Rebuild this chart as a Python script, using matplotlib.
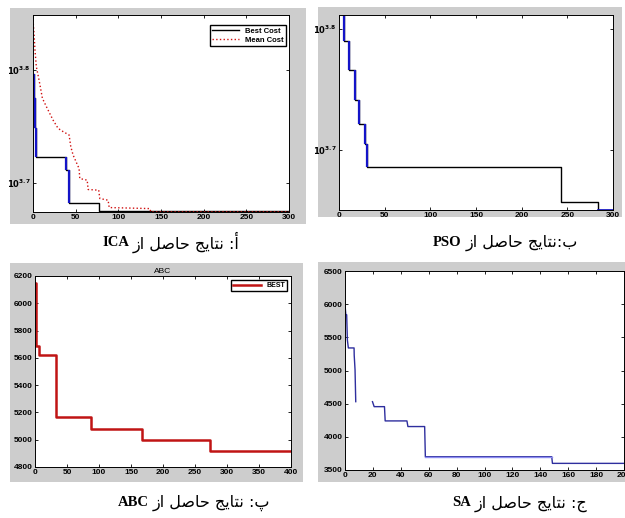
import numpy as np
import matplotlib.pyplot as plt
from matplotlib.patches import Rectangle
from matplotlib.text import Annotation
from matplotlib.ticker import FixedLocator, FixedFormatter, NullLocator

# ICA: best / mean cost (log scale)
ica_best_x = [0, 1, 2, 3, 39, 42, 77, 300]
ica_best_y = [6258, 5956, 5601, 5279, 5143, 4805, 4730, 4730]
ica_mean_x = [0, 1.2, 2.3, 3.9, 5.9, 7.8, 11, 15.7, 19.6, 23.5, 29.4, 35.3, 42.3, 44.3,
              47, 54, 54.8, 63.5, 64.6, 77, 78.3, 88, 89.3, 137, 138, 300]
ica_mean_y = [6989, 6800, 6574, 6353, 6246, 6141, 5956, 5855, 5775, 5697, 5601, 5564, 5526, 5395,
              5304, 5160, 5056, 5039, 4944, 4937, 4854, 4837, 4765, 4755, 4723, 4723]

# PSO (log scale)
pso_x = [4, 5, 11.3, 17.5, 22, 28.5, 30.5, 243, 283.5, 300]
pso_y = [6600, 6164, 5839, 5513, 5266, 5075, 4854, 4542, 4474, 4474]

# ABC
abc_x = [0, 1.5, 6, 33, 88, 167, 274, 400]
abc_y = [6150, 5690, 5620, 5165, 5075, 4995, 4915, 4915]

# SA (gap in the recorded curve)
sa_x = [0, 0.6, 1.2, 1.7, 2.4, 6.5, 6.6, 7.2, 7.7, np.nan, 19.7, 20.9, 28.3, 28.8,
        44.4, 45.1, 57.1, 57.6, 148.2, 148.7, 200]
sa_y = [5990, 5840, 5840, 5460, 5340, 5340, 5230, 5010, 4530, np.nan, 4530, 4455, 4455, 4240,
        4240, 4155, 4155, 3700, 3700, 3600, 3600]

captions = ['أ: نتایج حاصل از', 'ب:نتایج حاصل از', 'پ: نتایج حاصل از', 'ج: نتایج حاصل از']
cap_latin = ['ICA', 'PSO', 'ABC', 'SA']

# arabic presentation forms: isolated, final, initial, medial
FORMS = {
    'ا': ('\uFE8D', '\uFE8E'),
    'أ': ('\uFE83', '\uFE84'),
    'ز': ('\uFEAF', '\uFEB0'),
    'ب': ('\uFE8F', '\uFE90', '\uFE91', '\uFE92'),
    'پ': ('\uFB56', '\uFB57', '\uFB58', '\uFB59'),
    'ت': ('\uFE95', '\uFE96', '\uFE97', '\uFE98'),
    'ج': ('\uFE9D', '\uFE9E', '\uFE9F', '\uFEA0'),
    'ح': ('\uFEA1', '\uFEA2', '\uFEA3', '\uFEA4'),
    'ص': ('\uFEB9', '\uFEBA', '\uFEBB', '\uFEBC'),
    'ل': ('\uFEDD', '\uFEDE', '\uFEDF', '\uFEE0'),
    'ن': ('\uFEE5', '\uFEE6', '\uFEE7', '\uFEE8'),
    'ی': ('\uFEEF', '\uFEF0', '\uFEF3', '\uFEF4'),
}


def shape_word(w):
    out = []
    for i, c in enumerate(w):
        f = FORMS.get(c)
        if f is None:
            out.append(c)
            continue
        prev = FORMS.get(w[i - 1]) if i > 0 else None
        nxt = FORMS.get(w[i + 1]) if i + 1 < len(w) else None
        jp = prev is not None and len(prev) == 4
        jn = nxt is not None and len(f) == 4
        out.append(f[int(jp) + 2 * int(jn)])
    return ''.join(out)


def rtl(text):
    # visual order for a plain rtl line
    return ' '.join(shape_word(w)[::-1] for w in reversed(text.split(' ')))


W, H = 625, 518
plt.rcParams['font.family'] = 'Liberation Sans'
plt.rcParams['font.weight'] = 'bold'
fig = plt.figure(figsize=(W / 100, H / 100), dpi=100)


def box(l, t, r, b):
    return [l / W, 1 - b / H, (r - l) / W, (b - t) / H]


def panel(l, t, r, b):
    x, y, w, h = box(l, t, r, b)
    fig.add_artist(Rectangle((x, y), w, h, transform=fig.transFigure,
                             fc='#cdcdcd', ec='none', zorder=0))


def matlab_axes(rect):
    ax = fig.add_axes(box(*rect))
    ax.tick_params(direction='in', top=True, right=True, length=2.5, width=0.6,
                   labelsize=6, pad=1.5)
    for s in ax.spines.values():
        s.set_linewidth(0.7)
    return ax


def log_ticks(ax):
    ax.set_yscale('log')
    ax.yaxis.set_major_locator(FixedLocator([10 ** 3.7, 10 ** 3.8]))
    ax.yaxis.set_major_formatter(FixedFormatter(['$10^{3.7}$', '$10^{3.8}$']))
    ax.yaxis.set_minor_locator(NullLocator())


def caption(x, y, latin, persian):
    t = fig.text(x / W, 1 - y / H, latin, family='Liberation Serif', weight='bold',
                 fontsize=10.5, ha='left', va='center')
    a = Annotation(rtl(persian), xy=(1, 0.45), xycoords=t, xytext=(3, 0),
                   textcoords='offset points', ha='left', va='center',
                   family='DejaVu Sans', weight='normal', fontsize=11.5)
    fig.add_artist(a)


panel(10, 8, 306, 224)
panel(318, 7, 622, 217)
panel(10, 263, 303, 482)
panel(318, 262, 625, 482)

# ICA
ax1 = matlab_axes((33, 15, 289, 212))
ax1.step(ica_best_x, ica_best_y, where='post', color='black', lw=1, label='Best Cost')
ax1.vlines(ica_best_x[1:6], ica_best_y[1:6], ica_best_y[0:5], color='#1414c8', lw=1.6)
ax1.plot(ica_mean_x, ica_mean_y, color='#d01010', ls=':', lw=1, label='Mean Cost')
log_ticks(ax1)
ax1.set_xlim(0, 300)
ax1.set_ylim(4722, 7060)
ax1.set_xticks(range(0, 301, 50))
ax1.legend(loc='upper right', bbox_to_anchor=(0.988, 0.949), borderaxespad=0,
           fontsize=5.5, fancybox=False, edgecolor='black', framealpha=1,
           handlelength=3.5, labelspacing=0.2, borderpad=0.3)

# PSO
ax2 = matlab_axes((339, 15, 613, 210))
ax2.step(pso_x, pso_y, where='post', color='black', lw=1)
ax2.vlines(pso_x[1:7], pso_y[1:7], pso_y[0:6], color='#1414c8', lw=1.6)
ax2.plot(pso_x[-2:], pso_y[-2:], color='#1414c8', lw=1.2)
log_ticks(ax2)
ax2.set_xlim(0, 300)
ax2.set_ylim(4471, 6483)
ax2.set_xticks(range(0, 301, 50))

# ABC
ax3 = matlab_axes((35, 276, 291, 467))
ax3.step(abc_x, abc_y, where='post', color='#c01414', lw=1.8, label='BEST')
ax3.set_xlim(0, 400)
ax3.set_ylim(4800, 6200)
ax3.set_xticks(range(0, 401, 50))
ax3.set_yticks(range(4800, 6201, 200))
ax3.set_title('ABC', fontsize=6, pad=2)
ax3.legend(loc='upper right', bbox_to_anchor=(0.984, 0.979), borderaxespad=0,
           fontsize=5, fancybox=False, edgecolor='black', framealpha=1,
           handlelength=4, borderpad=0.3)

# SA
ax4 = matlab_axes((345, 271, 624, 470))
ax4.plot(sa_x, sa_y, color='#2e2e9e', lw=1)
ax4.plot(sa_x[17:19], sa_y[17:19], color='#8c8cf0', lw=1)  # lighter flat stretch
ax4.set_xlim(0, 200)
ax4.set_ylim(3500, 6500)
ax4.set_xticks(range(0, 201, 20))
ax4.set_yticks(range(3500, 6501, 500))

caption(102, 242, cap_latin[0], captions[0])
caption(433, 242, cap_latin[1], captions[1])
caption(118, 502, cap_latin[2], captions[2])
caption(452, 503, cap_latin[3], captions[3])

fig.savefig('out.png', dpi=100)
